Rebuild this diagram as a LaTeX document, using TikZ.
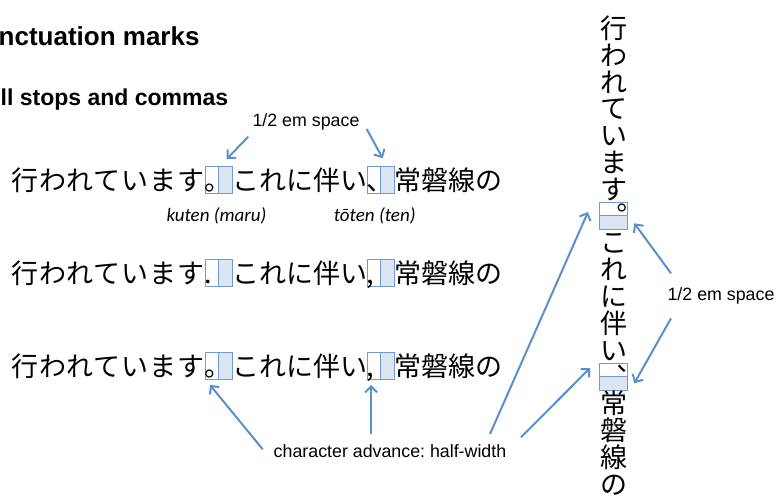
\documentclass[tikz,border=0pt]{standalone}
\usepackage{fontspec}
\setmainfont{Liberation Sans}
\newfontfamily\cjk{Noto Sans CJK JP}
\newfontfamily\cjkw[LetterSpace=3.5]{Noto Sans CJK JP}
\newfontfamily\cali{Carlito}
\usetikzlibrary{arrows.meta}
\definecolor{arrowc}{HTML}{5B8FCC}
\definecolor{boxc}{HTML}{6E9BD3}
\definecolor{boxfill}{HTML}{DCE6F2}
\tikzset{
 jp/.style={font=\cjk\fontsize{27}{27}\selectfont, inner sep=0pt, text height=23.76pt, text depth=3.24pt},
 jpw/.style={font=\cjkw\fontsize{27}{27}\selectfont, inner sep=0pt, text height=23.76pt, text depth=3.24pt},
 jpv/.style={font=\cjk\fontsize{27}{27}\selectfont, inner sep=0pt, text height=23.76pt, text depth=3.24pt},
 emh/.style={draw=boxc, line width=0.9pt, minimum width=27pt, minimum height=27pt, inner sep=0pt,
   path picture={\fill[boxfill] (path picture bounding box.north) rectangle (path picture bounding box.south east);
     \draw[boxc, line width=0.9pt] (path picture bounding box.north) -- (path picture bounding box.south);}},
 emv/.style={draw=boxc, line width=0.9pt, minimum width=28pt, minimum height=26.8pt, inner sep=0pt,
   path picture={\fill[boxfill] (path picture bounding box.west) rectangle (path picture bounding box.south east);
     \draw[boxc, line width=0.9pt] (path picture bounding box.west) -- (path picture bounding box.east);}},
 arr/.style={draw=arrowc, line width=2pt, -{Straight Barb[length=6pt,width=12pt]}},
 lab/.style={font=\fontsize{17.8}{20}\selectfont, inner sep=0pt, anchor=base},
 ital/.style={font=\cali\itshape\fontsize{19}{22}\selectfont, inner sep=0pt, anchor=base},
 head/.style={font=\bfseries, inner sep=0pt, anchor=base west},
}
\begin{document}
\frenchspacing
\begin{tikzpicture}[x=1pt,y=-1pt]
\useasboundingbox (0,0) rectangle (778,497);
% headings
\node[head, font=\bfseries\fontsize{26}{30}\selectfont] (h1) at (-1.5,46) {nctuation marks};
\node[head, font=\bfseries\fontsize{23}{27}\selectfont] (h2) at (0.5,106) {ll stops and commas};
% row 1
\node[emh] (b11) at (218.5,179.5) {};
\node[emh] (b12) at (380.5,179.5) {};
\node[jpw, anchor=south east] (t11) at (b11.south west) {行われています};
\node[jp, anchor=south west] (t12) at (b11.south east) {これに伴い};
\node[jp, anchor=south west] (t13) at (b12.south east) {常磐線の};
\node[jp, anchor=south west] (p11) at (b11.south west) {。};
\node[jp, anchor=south west] (p12) at (b12.south west) {、};
% row 2
\node[emh] (b21) at (218.5,273.2) {};
\node[emh] (b22) at (380.5,273.2) {};
\node[jpw, anchor=south east] (t21) at (b21.south west) {行われています};
\node[jp, anchor=south west] (t22) at (b21.south east) {これに伴い};
\node[jp, anchor=south west] (t23) at (b22.south east) {常磐線の};
\node[jp, anchor=south west] (p21) at (b21.south west) {.};
\node[jp, anchor=south west] (p22) at (b22.south west) {,};
% row 3
\node[emh] (b31) at (218.5,366.2) {};
\node[emh] (b32) at (380.5,366.2) {};
\node[jpw, anchor=south east] (t31) at (b31.south west) {行われています};
\node[jp, anchor=south west] (t32) at (b31.south east) {これに伴い};
\node[jp, anchor=south west] (t33) at (b32.south east) {常磐線の};
\node[jp, anchor=south west] (p31) at (b31.south west) {。};
\node[jp, anchor=south west] (p32) at (b32.south west) {,};
% italic labels
\node[ital] (k1) at (216.5,221.7) {kuten (maru)};
\node[ital] (k2) at (374.7,221.7) {tōten (ten)};
% vertical column
\foreach \c [count=\i] in {行,わ,れ,て,い,ま,す}
  \node[jpv] (v\i) at (613.8,{202.5-(7.5-\i)*26.8}) {\c};
\node[emv] (vb1) at (613.8,215.9) {};
\foreach \c [count=\i] in {こ,れ,に,伴,い}
  \node[jpv] (w\i) at (613.8,{229.3+(\i-0.5)*26.8}) {\c};
\node[emv] (vb2) at (613.8,376.7) {};
\foreach \c [count=\i] in {常,磐,線,の}
  \node[jpv] (u\i) at (613.8,{390.1+(\i-0.5)*26.8}) {\c};
\node[jpv, rotate=180] (vp1) at (vb1.center) {。};
\node[jpv, rotate=180] (vp2) at (vb2.center) {、};
% labels
\node[lab] (l1) at (306,126.7) {1/2 em space};
\node[lab] (l2) at (721,300) {1/2 em space};
\node[lab] (l3) at (390,457.3) {character advance: half-width};
% connector end points
\coordinate (s1) at (248.3,136.7); \coordinate (e1) at (226.7,159);
\coordinate (s2) at (366.7,129);   \coordinate (e2) at (382.7,158.3);
\coordinate (s3) at (262.7,449.3); \coordinate (e3) at (210,385);
\coordinate (s4) at (371,434);     \coordinate (e4) at (371,385);
\coordinate (s5) at (490,434);     \coordinate (e5) at (588,212);
\coordinate (s6) at (521,437.3);   \coordinate (e6) at (590,368);
\coordinate (s7) at (671,273.3);   \coordinate (e7) at (634.3,223.3);
\coordinate (s8) at (671,318.3);   \coordinate (e8) at (634.3,383.3);
\foreach \k in {1,...,8} \draw[arr] (s\k) -- (e\k);
\end{tikzpicture}
\end{document}
